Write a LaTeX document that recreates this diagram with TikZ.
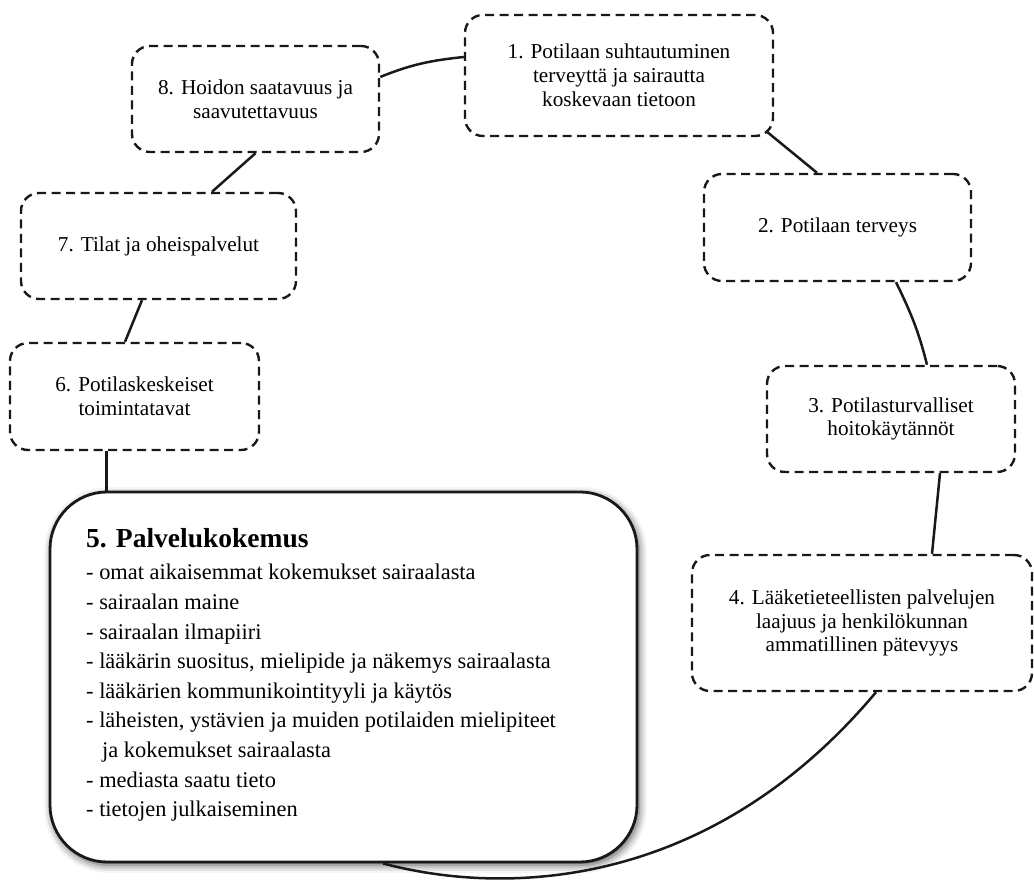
\documentclass[tikz,border=0pt]{standalone}
\usepackage{fontspec}
\setmainfont{Liberation Serif}
\usetikzlibrary{shadows.blur}

\begin{document}
\begin{tikzpicture}[x=1pt,y=1pt,
  factor/.style={draw=black!90, line width=2.4pt, dash pattern=on 9pt off 5.5pt,
    rounded corners=18pt, align=center, inner sep=0pt,
    font=\fontsize{21.2}{23.8}\selectfont},
  mainbox/.style={draw=black!90, line width=2.8pt, rounded corners=57pt, fill=white,
    blur shadow={shadow xshift=2pt, shadow yshift=-3pt, shadow blur radius=8pt,
      shadow opacity=70}},
  link/.style={draw=black!90, line width=2.5pt},
  itemtext/.style={anchor=base west, inner sep=0pt, font=\fontsize{22.4}{29.6}\selectfont}]
\useasboundingbox (0,0) rectangle (1034,884);

% the eight factors around the circle
\node[factor, minimum width=308, minimum height=121] (b1) at (619,808.5)
  {1. Potilaan suhtautuminen\\terveyttä ja sairautta\\koskevaan tietoon};
\node[factor, minimum width=267, minimum height=107] (b2) at (837.5,656.5)
  {2. Potilaan terveys};
\node[factor, minimum width=248, minimum height=106] (b3) at (891,465)
  {3. Potilasturvalliset\\hoitokäytännöt};
\node[factor, minimum width=340, minimum height=136] (b4) at (862,261)
  {4. Lääketieteellisten palvelujen\\laajuus ja henkilökunnan\\ammatillinen pätevyys};
\node[factor, minimum width=249, minimum height=107] (b6) at (134.5,487.5)
  {6. Potilaskeskeiset\\toimintatavat};
\node[factor, minimum width=275, minimum height=106] (b7) at (158.5,638)
  {7. Tilat ja oheispalvelut};
\node[factor, minimum width=247, minimum height=106] (b8) at (255.5,785)
  {8. Hoidon saatavuus ja\\saavutettavuus};

% the central service-experience box
\node[mainbox, minimum width=587, minimum height=370] (b5) at (343.5,207) {};
\node[anchor=base west, inner sep=0pt, font=\bfseries\fontsize{27.5}{30}\selectfont]
  (h5) at (86,336) {5. Palvelukokemus};
\node[itemtext] (i1) at (86,304)   {- omat aikaisemmat kokemukset sairaalasta};
\node[itemtext] (i2) at (86,274.4) {- sairaalan maine};
\node[itemtext] (i3) at (86,244.8) {- sairaalan ilmapiiri};
\node[itemtext] (i4) at (86,215.2) {- lääkärin suositus, mielipide ja näkemys sairaalasta};
\node[itemtext] (i5) at (86,185.6) {- lääkärien kommunikointityyli ja käytös};
\node[itemtext] (i6) at (86,156)   {- läheisten, ystävien ja muiden potilaiden mielipiteet};
\node[itemtext] (i7) at (102,126.4){ja kokemukset sairaalasta};
\node[itemtext] (i8) at (86,96.8)  {- mediasta saatu tieto};
\node[itemtext] (i9) at (86,67.2)  {- tietojen julkaiseminen};

% connectors
\draw[link] ([yshift=22pt]b8.east) to[out=22,in=186] ([yshift=18.5pt]b1.west);
\draw[link] ([xshift=-8pt,yshift=6pt]b1.south east) -- ([xshift=-20.5pt]b2.north);
\draw[link] ([xshift=58.5pt]b2.south) to[out=-64,in=104] ([xshift=36pt]b3.north);
\draw[link] ([xshift=49pt]b3.south) -- ([xshift=70pt]b4.north);
\draw[link] ([xshift=14pt]b4.south) to[out=230,in=-15,out distance=260pt,in distance=125pt]
  ([xshift=39.5pt]b5.south);
\draw[link] ([xshift=-28pt]b6.south) -- ([xshift=-237pt]b5.north);
\draw[link] ([xshift=-16.5pt]b7.south) -- ([xshift=-9.5pt]b6.north);
\draw[link] (b8.south) -- ([xshift=53.5pt]b7.north);
\end{tikzpicture}
\end{document}
